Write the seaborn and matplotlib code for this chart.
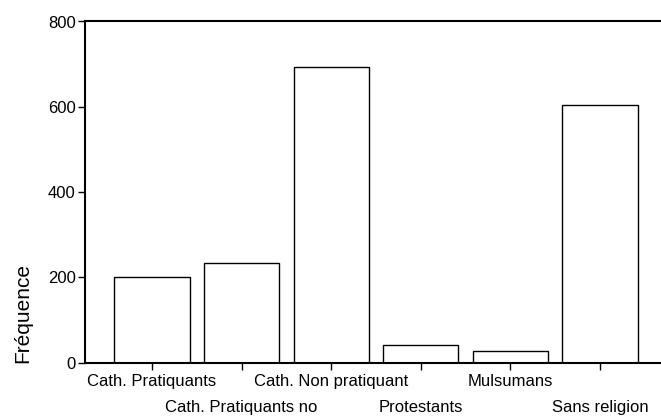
import matplotlib
matplotlib.use("Agg")
import matplotlib.pyplot as plt
import seaborn as sns
import pandas as pd

religions = ["Cath. Pratiquants", "Cath. Pratiquants no", "Cath. Non pratiquant",
             "Protestants", "Mulsumans", "Sans religion"]
frequences = [200, 233, 693, 41, 27, 604]
y_ticks = [0, 200, 400, 600, 800]


def main():
    sns.set_style("white")
    plt.rcParams['font.family'] = ['Liberation Sans', 'DejaVu Sans']
    plt.rcParams['text.color'] = 'black'
    plt.rcParams['axes.labelcolor'] = 'black'
    plt.rcParams['xtick.color'] = 'black'
    plt.rcParams['ytick.color'] = 'black'

    df = pd.DataFrame({'religion': religions, 'freq': frequences})

    fig = plt.figure(figsize=(6.61, 4.19), dpi=100)
    ax = fig.add_axes([85.5 / 661, 1 - 362.5 / 419, 1 - 85.5 / 661, 341 / 419])

    sns.barplot(data=df, x='religion', y='freq', color='white', saturation=1,
                edgecolor='black', linewidth=1, width=0.84, ax=ax)

    ax.set_xlim(-0.742, 5.68)
    ax.set_ylim(0, 800)
    ax.set_yticks(y_ticks)
    ax.set_yticklabels([str(v) for v in y_ticks], fontsize=12)

    # labels alternate on two rows, like R does when they overlap
    idx = list(range(len(religions)))
    ax.set_xticks(idx[0::2])
    ax.set_xticklabels(religions[0::2], fontsize=12)
    ax.set_xticks(idx[1::2], minor=True)
    ax.set_xticklabels(religions[1::2], minor=True, fontsize=12)
    ax.tick_params(axis='x', which='major', length=5, width=1, pad=3, bottom=True)
    ax.tick_params(axis='x', which='minor', length=5, width=1, pad=22, bottom=True)
    ax.tick_params(axis='y', length=5, width=1, pad=2, left=True)

    ax.set_xlabel("")
    # ylabel sits low, near the bottom of the axis
    ax.set_ylabel("Fréquence", fontsize=15)
    ax.yaxis.set_label_coords(-0.093, 0.145)

    for side in ['left', 'bottom', 'top']:
        ax.spines[side].set_visible(True)
        ax.spines[side].set_color('black')
        ax.spines[side].set_linewidth(1.5)
    ax.spines['right'].set_visible(False)

    fig.savefig("out.png", dpi=100)


if __name__ == "__main__":
    main()
